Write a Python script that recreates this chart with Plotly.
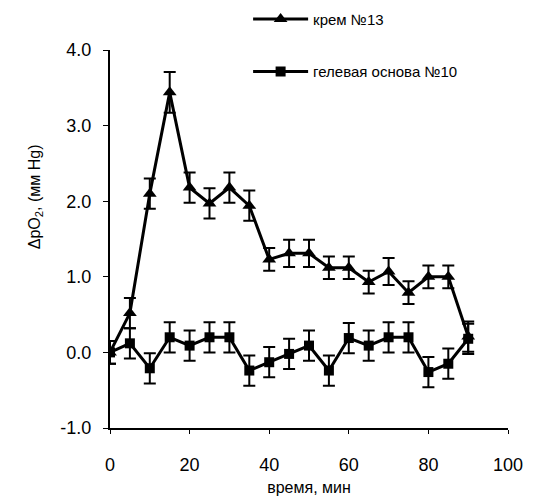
import plotly.graph_objects as go

time_min = [0, 5, 10, 15, 20, 25, 30, 35, 40, 45, 50, 55, 60, 65, 70, 75, 80, 85, 90]
cream13 = [0.0, 0.52, 2.1, 3.44, 2.18, 1.97, 2.18, 1.94, 1.23, 1.31, 1.31, 1.12, 1.12, 0.93, 1.07, 0.79, 1.0, 1.0, 0.21]
cream13_err = [0.15, 0.2, 0.2, 0.27, 0.2, 0.2, 0.2, 0.2, 0.15, 0.18, 0.18, 0.15, 0.15, 0.15, 0.18, 0.15, 0.15, 0.15, 0.2]
gel10 = [0.0, 0.12, -0.21, 0.2, 0.09, 0.2, 0.2, -0.24, -0.13, -0.02, 0.09, -0.24, 0.19, 0.09, 0.2, 0.2, -0.26, -0.15, 0.18]
gel10_err = [0.15, 0.2, 0.2, 0.2, 0.2, 0.2, 0.2, 0.2, 0.2, 0.2, 0.2, 0.2, 0.2, 0.2, 0.2, 0.2, 0.2, 0.2, 0.2]

FONT = "Liberation Sans, Arial, sans-serif"

fig = go.Figure()
fig.add_trace(go.Scatter(
    x=time_min, y=cream13, name="крем №13", mode="lines+markers",
    line=dict(color="black", width=3),
    marker=dict(symbol="triangle-up", size=12, color="black"),
    error_y=dict(type="data", array=cream13_err, color="black", thickness=2, width=6),
    legendgroup="a",
))
fig.add_trace(go.Scatter(
    x=time_min, y=gel10, name="гелевая основа №10", mode="lines+markers",
    line=dict(color="black", width=3),
    marker=dict(symbol="square", size=10, color="black"),
    error_y=dict(type="data", array=gel10_err, color="black", thickness=2, width=6),
    legendgroup="b",
))

fig.update_layout(
    width=538, height=500,
    margin=dict(l=102, r=38, t=42, b=80, autoexpand=False),
    paper_bgcolor="white", plot_bgcolor="white",
    font=dict(family=FONT, color="black", size=16),
    showlegend=True,
    legend=dict(x=0.347, y=1.125, xanchor="left", yanchor="top",
                traceorder="grouped", tracegroupgap=30, itemwidth=55,
                bgcolor="rgba(0,0,0,0)", font=dict(size=15)),
    xaxis=dict(range=[0, 100], tickvals=[0, 20, 40, 60, 80, 100],
               showgrid=False, zeroline=False, showline=True, linecolor="black", linewidth=2,
               ticks="outside", ticklen=4, tickcolor="black", ticklabelstandoff=15,
               title=dict(text="время, мин", font=dict(size=16), standoff=8),
               tickfont=dict(size=18)),
    yaxis=dict(range=[-1, 4], tickvals=[-1, 0, 1, 2, 3, 4],
               ticktext=["-1.0", "0.0", "1.0", "2.0", "3.0", "4.0"],
               showgrid=False, zeroline=False, showline=True, linecolor="black", linewidth=2,
               ticks="outside", ticklen=5, tickcolor="black", ticklabelstandoff=8,
               tickfont=dict(size=18)),
    annotations=[dict(text="ΔpO<sub>2</sub>, (мм Hg)", textangle=-90,
                      xref="paper", yref="paper", x=-0.188, y=0.611,
                      xanchor="center", yanchor="middle", showarrow=False,
                      font=dict(size=16))],
)

fig.write_html("out.html")
